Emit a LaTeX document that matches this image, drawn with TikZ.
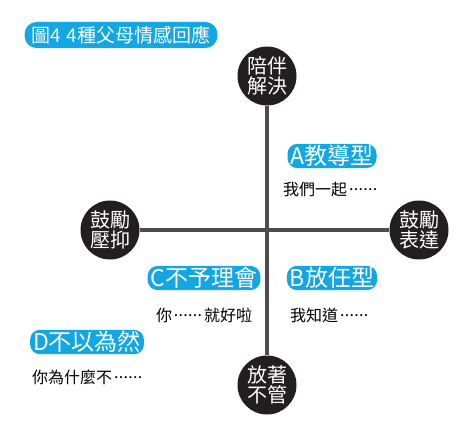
\documentclass[tikz,border=0pt]{standalone}
\usepackage{fontspec}
\newfontfamily\cjk{Noto Sans CJK TC}
\definecolor{cblue}{RGB}{18,166,226}
\definecolor{cdark}{RGB}{35,31,32}
\definecolor{cgray}{RGB}{77,77,77}
\newcommand\midots{\raisebox{0.3em}{\makebox[2em]{\hspace{0.12em}.\hfill.\hfill.\hfill.\hfill.\hfill.\hspace{0.12em}}}}
\begin{document}
\begin{tikzpicture}[x=1pt,y=-1pt,
 pill/.style={fill=cblue, text=white, rounded corners=10pt, inner xsep=3pt, inner ysep=1.5pt, font=\cjk\fontsize{23}{24}\selectfont},
 disc/.style={circle, fill=cdark, text=white, minimum size=59pt, inner sep=0pt, align=center, font=\cjk\fontsize{20}{20}\selectfont},
 note/.style={font=\cjk\fontsize{16}{18}\selectfont, text=black, inner sep=0pt},
 axis/.style={draw=cgray, line width=4pt}]
\useasboundingbox (0,0) rectangle (470,434);
\node[disc] (top) at (267,76) {陪伴\\解決};
\node[disc] (bot) at (267,385) {放著\\不管};
\node[disc] (left) at (110,230) {鼓勵\\壓抑};
\node[disc] (right) at (419,230) {鼓勵\\表達};
\draw[axis] (top) -- (bot);
\draw[axis] (left) -- (right);
\node[pill, font=\cjk\fontsize{19}{21}\selectfont, rounded corners=12pt, inner ysep=4pt, inner xsep=7pt] (title) at (121,35) {圖4\hspace{0.3em}4種父母情感回應};
\node[pill] (a) at (332,156) {A教導型};
\node[note, anchor=west] (an) at (283,189) {我們一起\midots};
\node[pill] (b) at (332,278) {B放任型};
\node[note, anchor=west] (bn) at (290,315) {我知道\midots};
\node[pill] (c) at (204,278) {C不予理會};
\node[note] (cn) at (204,315) {你\midots 就好啦};
\node[pill] (d) at (87,342) {D不以為然};
\node[note, anchor=west] (dn) at (32,377) {你為什麼不\midots};
\end{tikzpicture}
\end{document}
